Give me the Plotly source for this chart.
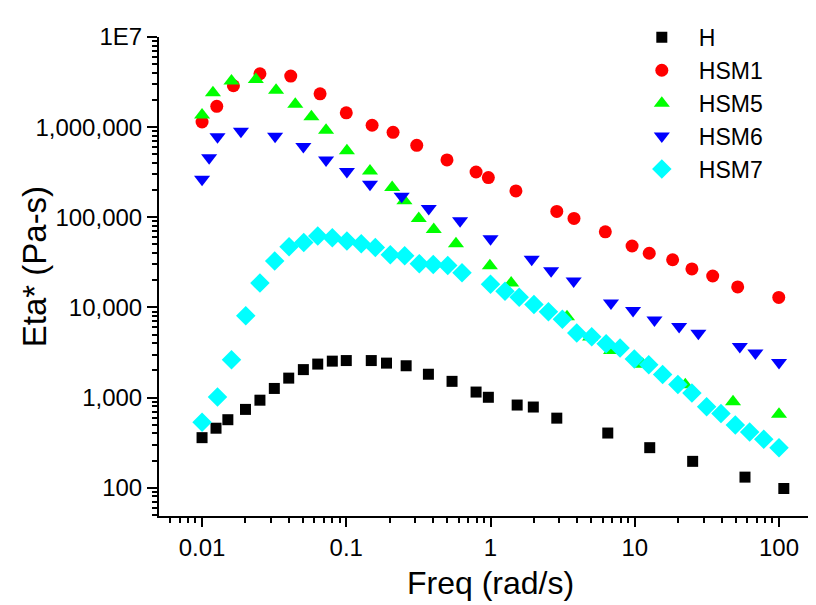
import plotly.graph_objects as go
import math

# ---- data ----
h_freq = [0.01, 0.0125, 0.0151, 0.02, 0.0252, 0.0317, 0.0399, 0.0504, 0.0634, 0.08,
          0.1, 0.149, 0.19, 0.26, 0.371, 0.541, 0.794, 0.966,
          1.53, 1.98, 2.88, 6.5, 12.7, 25.2, 58.1, 108]
h_eta = [359, 457, 568, 739, 935, 1262, 1643, 2042, 2352, 2535,
         2573, 2573, 2410, 2253, 1814, 1513, 1151, 1007,
         826, 785, 591, 404, 278, 196, 131, 98]

hsm1_freq = [0.01, 0.01265, 0.0165, 0.0252, 0.0412, 0.0658, 0.1, 0.151,
             0.211, 0.308, 0.499, 0.794, 0.966, 1.5, 2.88, 3.79,
             6.25, 9.58, 12.6, 18.3, 24.9, 34.7, 51.7, 99.6]
hsm1_eta = [1.14e6, 1.70e6, 2.88e6, 3.91e6, 3.69e6, 2.34e6, 1.44e6, 1.05e6,
            877e3, 629e3, 433e3, 318e3, 276e3, 196e3, 116e3, 97e3,
            69e3, 48e3, 39.9e3, 33.8e3, 26.7e3, 22.3e3, 16.9e3, 12.9e3]

hsm5_freq = [0.01, 0.0119, 0.016, 0.0236, 0.0326, 0.0443, 0.0573, 0.0724,
             0.101, 0.146, 0.208, 0.253, 0.318, 0.404, 0.576, 0.99,
             1.39, 3.39, 4.9, 6.85, 11.35, 22.4, 48, 100]
hsm5_eta = [1.36e6, 2.40e6, 3.26e6, 3.37e6, 2.56e6, 1.79e6, 1.30e6, 921e3,
            546e3, 327e3, 214e3, 153e3, 97e3, 73e3, 51e3, 29e3,
            18.6e3, 7.9e3, 4.70e3, 3.32e3, 2.34e3, 1.39e3, 896, 653]

hsm6_freq = [0.01, 0.0112, 0.0128, 0.0186, 0.0321, 0.0504, 0.0724, 0.101,
             0.146, 0.242, 0.373, 0.615, 1.0, 1.93, 2.63, 3.77,
             6.84, 9.73, 13.7, 20.3, 27.6, 53.5, 68.6, 100]
hsm6_eta = [265e3, 458e3, 781e3, 898e3, 793e3, 609e3, 433e3, 323e3,
            232e3, 171e3, 125e3, 91.6e3, 57.9e3, 34.3e3, 25.5e3, 19.6e3,
            11.2e3, 9.26e3, 7.27e3, 6.15e3, 5.17e3, 3.68e3, 3.12e3, 2.45e3]

hsm7_freq = [0.01, 0.0128, 0.016, 0.0201, 0.0252, 0.0319, 0.0401, 0.0507, 0.0634, 0.08,
             0.101, 0.127, 0.159, 0.202, 0.254, 0.321, 0.401, 0.505, 0.634,
             1.0, 1.26, 1.58, 2.0, 2.52, 3.15, 3.96, 5.03, 6.33, 7.91,
             9.93, 12.5, 15.6, 19.9, 24.9, 31.5, 39.6, 49.8, 62.6, 78.4, 100]
hsm7_eta = [531, 1014, 2620, 8090, 18.6e3, 32.7e3, 47.1e3, 52.5e3, 62.0e3, 59.4e3,
            54.7e3, 50.8e3, 46.3e3, 38.3e3, 37.4e3, 30.6e3, 29.9e3, 29.1e3, 24.2e3,
            18.1e3, 15.1e3, 13.0e3, 10.8e3, 8.94e3, 7.39e3, 5.19e3, 4.73e3, 3.96e3, 3.55e3,
            2.68e3, 2.31e3, 1.80e3, 1.40e3, 1.12e3, 791, 665, 497, 414, 345, 278]

x_tickvals = [0.01, 0.1, 1, 10, 100]
x_ticktext = ["0.01", "0.1", "1", "10", "100"]
y_tickvals = [100, 1000, 10000, 100000, 1000000, 10000000]
y_ticktext = ["100", "1,000", "10,000", "100,000", "1,000,000", "1E7"]

FONT = "Liberation Sans, Arial, Helvetica, sans-serif"

series = [
    ("H", h_freq, h_eta, "square", "#000000", 11),
    ("HSM1", hsm1_freq, hsm1_eta, "circle", "#FF0000", 13),
    ("HSM5", hsm5_freq, hsm5_eta, "triangle-up", "#00FF00", 14),
    ("HSM6", hsm6_freq, hsm6_eta, "triangle-down", "#0000FF", 14),
    ("HSM7", hsm7_freq, hsm7_eta, "diamond", "#00FFFF", 15),
]

fig = go.Figure()
for name, fx, fy, sym, col, sz in series:
    fig.add_trace(go.Scatter(
        x=fx, y=fy, mode="markers", name=name,
        marker=dict(symbol=sym, color=col, size=sz, line=dict(width=0)),
    ))

x_minor = [k * 10 ** e for e in range(-3, 3) for k in range(2, 10)]
y_minor = [k * 10 ** e for e in range(1, 7) for k in range(2, 10)]

# page body adds an 8px offset; layout coordinates are compensated for it
fig.update_layout(
    width=816, height=605,
    margin=dict(l=151, r=8, t=17, b=97),
    paper_bgcolor="white", plot_bgcolor="white",
    font=dict(family=FONT, color="black", size=24),
    legend=dict(x=0.709, y=1.044, xanchor="left", yanchor="top",
                font=dict(size=23), bgcolor="rgba(0,0,0,0)",
                tracegroupgap=0, itemsizing="trace", itemwidth=64),
    xaxis=dict(
        type="log", range=[math.log10(0.00503), 2.2565],
        showline=True, linecolor="black", linewidth=2, mirror=False,
        showgrid=False, zeroline=False,
        ticks="outside", ticklen=9, tickwidth=1.5, tickcolor="black",
        tickmode="array", tickvals=x_tickvals, ticktext=x_ticktext,
        tickfont=dict(size=24),
        minor=dict(tickmode="array", tickvals=x_minor, ticks="outside",
                   ticklen=5, tickwidth=1.5, tickcolor="black", showgrid=False),
    ),
    yaxis=dict(
        type="log", range=[1.686, 7],
        showline=True, linecolor="black", linewidth=2, mirror=False,
        showgrid=False, zeroline=False,
        ticks="outside", ticklen=10, tickwidth=1.5, tickcolor="black",
        tickmode="array", tickvals=y_tickvals, ticktext=y_ticktext,
        tickfont=dict(size=24),
        minor=dict(tickmode="array", tickvals=y_minor, ticks="outside",
                   ticklen=5, tickwidth=1.5, tickcolor="black", showgrid=False),
    ),
    annotations=[
        dict(text="Eta* (Pa-s)", xref="paper", yref="paper",
             x=-0.189, y=0.521, xanchor="center", yanchor="middle",
             textangle=-90, showarrow=False, font=dict(size=33)),
        dict(text="Freq (rad/s)", xref="paper", yref="paper",
             x=0.505, y=-0.1405, xanchor="center", yanchor="middle",
             showarrow=False, font=dict(size=32)),
    ],
)

fig.write_html("out.html")
